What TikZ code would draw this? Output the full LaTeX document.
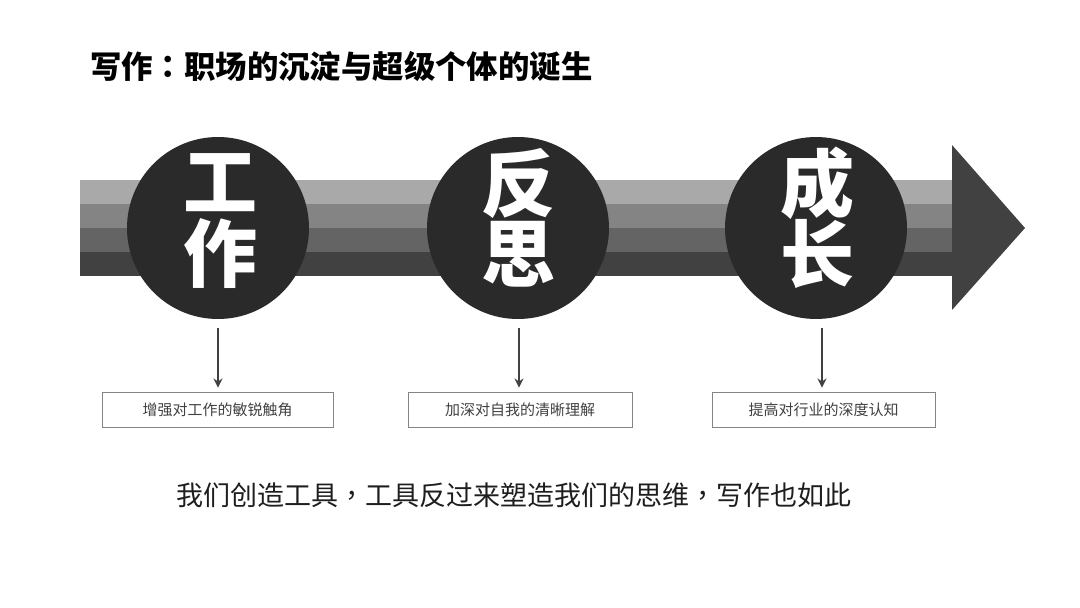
\documentclass[tikz,border=0pt]{standalone}
\usepackage{fontspec}
\newfontfamily\cjk{Noto Sans CJK SC}
\newfontfamily\cjktc{Noto Sans CJK TC}
\usetikzlibrary{arrows.meta}
\definecolor{s1}{HTML}{A9A9A9}
\definecolor{s2}{HTML}{848484}
\definecolor{s3}{HTML}{646464}
\definecolor{s4}{HTML}{414141}
\definecolor{circ}{HTML}{2A2A2A}
\definecolor{txt}{HTML}{1E1E1E}
\definecolor{boxline}{HTML}{858585}
\begin{document}
\begin{tikzpicture}[x=1pt,y=-1pt,
  stripe/.style={fill=#1,draw=none},
  disc/.style={circle,fill=circ,draw=none,minimum size=182pt,inner sep=0pt},
  bigch/.style={text=white,font=\cjk\bfseries\fontsize{74}{74}\selectfont,inner sep=0pt},
  infobox/.style={draw=boxline,line width=0.9pt,minimum height=35pt,inner sep=0pt,text=s4,font=\cjk\fontsize{15}{15}\selectfont},
  conn/.style={draw=s4,line width=2pt,-{Stealth[length=9pt,width=9pt]}}]
\useasboundingbox (0,0) rectangle (1080,608);
\fill[white] (0,0) rectangle (1080,608);
% title
\node[anchor=west,inner sep=0pt,text=black,font=\cjk\bfseries\fontsize{31.4}{31.4}\selectfont] (title) at (90,66) {写作{\cjktc\bfseries ：}职场的沉淀与超级个体的诞生};
% stripes
\fill[stripe=s1] (80,180) rectangle (953,204);
\fill[stripe=s2] (80,204) rectangle (953,228);
\fill[stripe=s3] (80,228) rectangle (953,252);
\fill[stripe=s4] (80,252) rectangle (953,276);
\fill[s4] (952,145) -- (1025,228) -- (952,310) -- cycle;
% circles
\node[disc] (c1) at (218,228) {};
\node[disc] (c2) at (518,228) {};
\node[disc] (c3) at (816,228) {};
\node[bigch] (c1a) at (220,183) {工};
\node[bigch] (c1b) at (220,254) {作};
\node[bigch] (c2a) at (518,183) {反};
\node[bigch] (c2b) at (518,254) {思};
\node[bigch] (c3a) at (817,183) {成};
\node[bigch] (c3b) at (817,254) {长};
% boxes
\node[infobox,minimum width=231pt] (b1) at (217.5,409.5) {增强对工作的敏锐触角};
\node[infobox,minimum width=224pt] (b2) at (520,409.5) {加深对自我的清晰理解};
\node[infobox,minimum width=223pt] (b3) at (823.5,409.5) {提高对行业的深度认知};
% connectors
\coordinate (a1) at (218,328);
\coordinate (a2) at (519,328);
\coordinate (a3) at (822,328);
\draw[conn,shorten >=4pt] (a1) -- (a1 |- b1.north);
\draw[conn,shorten >=4pt] (a2) -- (a2 |- b2.north);
\draw[conn,shorten >=4pt] (a3) -- (a3 |- b3.north);
% bottom text
\node[inner sep=0pt,text=txt,font=\cjk\fontsize{27}{27}\selectfont] (foot) at (514,495) {我们创造工具{\cjktc ，}工具反过来塑造我们的思维{\cjktc ，}写作也如此};
\end{tikzpicture}
\end{document}
